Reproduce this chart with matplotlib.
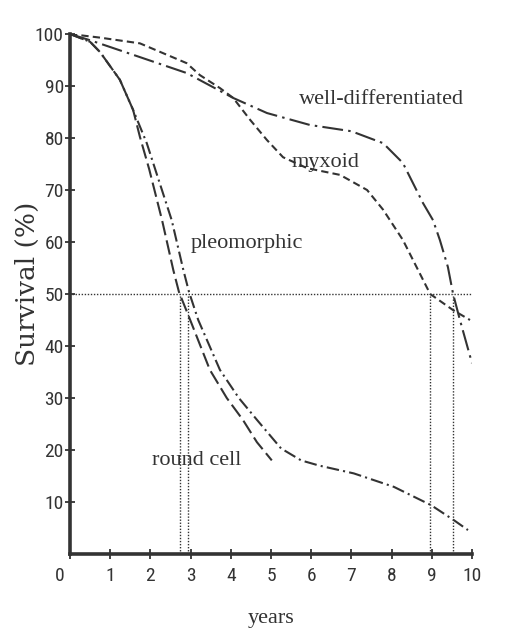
import matplotlib
matplotlib.use("Agg")
import matplotlib.pyplot as plt
import matplotlib.transforms as mtransforms
from matplotlib import font_manager as fm

# ---- data ----
round_x = [0, 0.5, 0.75, 1.24, 1.57, 1.74, 1.97, 2.29, 2.57, 2.71, 2.99, 3.48, 3.9, 4.3, 4.65, 5.02]
round_y = [100, 98.5, 96.5, 91.2, 85.4, 80.2, 74.0, 64.2, 54.6, 50.4, 45.0, 35.4, 30.0, 25.8, 21.5, 18.0]

pleo_x = [0, 0.5, 0.75, 1.24, 1.57, 1.91, 2.14, 2.53, 2.82, 2.96, 3.19, 3.73, 4.2, 4.65, 5.25, 5.75, 6.2, 7.06, 8.06, 8.98, 9.55, 9.9]
pleo_y = [100, 98.5, 96.5, 91.2, 85.4, 79.0, 73.5, 64.2, 54.6, 50.4, 45.0, 35.4, 30.0, 25.8, 20.3, 18.0, 17.0, 15.5, 12.9, 9.4, 6.5, 4.6]

well_x = [0, 0.5, 1.57, 2.9, 4.06, 4.9, 5.97, 7.0, 7.79, 8.28, 8.78, 9.03, 9.2, 9.4, 9.53, 9.7, 10.0]
well_y = [100, 98.8, 96.0, 92.5, 87.7, 84.8, 82.5, 81.3, 79.0, 75.2, 67.5, 64.2, 60.4, 55.2, 50.0, 45.0, 36.7]

myx_x = [0, 0.75, 1.74, 2.9, 3.23, 3.73, 4.06, 4.48, 4.9, 5.3, 5.9, 6.72, 7.39, 7.79, 8.28, 8.96, 9.53, 9.95]
myx_y = [100, 99.3, 98.2, 94.4, 92.1, 89.6, 87.7, 83.5, 79.6, 76.3, 74.2, 72.9, 70.0, 66.2, 60.4, 50.0, 46.9, 45.0]

median_x = [2.74, 2.94, 8.96, 9.53]
median_level = 50

x_ticks = list(range(0, 11))
y_ticks = list(range(10, 101, 10))

labels = ["well-differentiated", "myxoid", "pleomorphic", "round cell"]
label_pos = [(5.7, 87.5), (5.5, 75.3), (3.0, 59.8), (2.05, 18.0)]

# ---- fonts ----
def pick(names):
    for n in names:
        try:
            fm.findfont(fm.FontProperties(family=n), fallback_to_default=False)
            return n
        except Exception:
            pass
    return "DejaVu Sans"

narrow_font = pick(["Liberation Sans Narrow", "DejaVu Sans Condensed", "Roboto Condensed", "Liberation Sans"])

# ---- figure ----
ink = "#333333"
fig = plt.figure(figsize=(5.08, 6.31), dpi=100)
ax = fig.add_axes([70 / 508, 1 - 554 / 631, 402 / 508, 520 / 631])
ax.set_xlim(0, 10)
ax.set_ylim(0, 100)

lw = 1.5
ax.plot(round_x, round_y, color=ink, lw=lw, linestyle=(0, (7, 2.5)))
ax.plot(pleo_x, pleo_y, color=ink, lw=lw, linestyle=(0, (6, 2, 1, 2)))
ax.plot(well_x, well_y, color=ink, lw=lw, linestyle=(0, (10, 2.5, 1.2, 2.5)))
ax.plot(myx_x, myx_y, color=ink, lw=lw, linestyle=(0, (3.5, 2)))

# median guide lines
ax.plot([0.05, 9.98], [median_level, median_level], color=ink, lw=1.0,
        linestyle=(0, (1, 1.2)))
for mx in median_x:
    ax.plot([mx, mx], [0, median_level], color=ink, lw=1.0, linestyle=(0, (1, 1.2)))

# labels
serif = ["Liberation Serif", "DejaVu Serif"]
for txt, (lx, ly) in zip(labels, label_pos):
    ax.text(lx, ly, txt, family=serif, fontsize=16, color=ink,
            ha="left", va="center")

# spines / ticks
for s in ["top", "right"]:
    ax.spines[s].set_visible(False)
for s in ["left", "bottom"]:
    ax.spines[s].set_linewidth(2.6)
    ax.spines[s].set_color(ink)

ax.set_xticks(x_ticks)
ax.set_xticklabels([str(v) for v in x_ticks])
ax.set_yticks(y_ticks)
ax.set_yticklabels([str(v) for v in y_ticks])
ax.tick_params(axis="both", direction="inout", length=7, width=1.3, colors=ink,
               labelsize=14)
ax.tick_params(axis="x", pad=6)
ax.tick_params(axis="y", pad=1)
for lab in ax.get_xticklabels() + ax.get_yticklabels():
    lab.set_family([narrow_font, "DejaVu Sans"])
# the "0" sits slightly left of the axis in the reference
lab0 = ax.get_xticklabels()[0]
lab0.set_transform(lab0.get_transform() + mtransforms.ScaledTranslation(-10 / 100, 0, fig.dpi_scale_trans))

ax.set_ylabel("Survival (%)", family=["DejaVu Serif"], fontsize=19, color=ink)
ax.yaxis.set_label_coords(-0.075, 0.52)
ax.set_xlabel("years", family=serif, fontsize=16, color=ink, labelpad=17)

fig.savefig("out.png", dpi=100, facecolor="white")
